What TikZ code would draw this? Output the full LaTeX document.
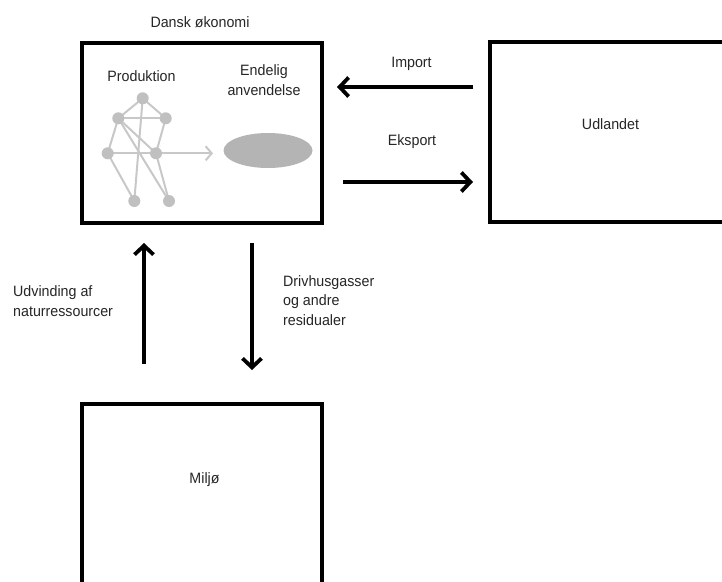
\documentclass[tikz,border=0pt]{standalone}
\usepackage{fontspec}
\setmainfont{Liberation Sans}[FakeStretch=0.95]
\usetikzlibrary{arrows.meta}
\definecolor{txt}{RGB}{38,38,38}
\definecolor{netline}{RGB}{200,200,200}
\definecolor{netnode}{RGB}{192,192,192}
\definecolor{ellfill}{RGB}{180,180,180}
\tikzset{
  box/.style={draw=black, line width=3.8pt, minimum width=240pt, minimum height=180pt, inner sep=0pt},
  lbl/.style={text=txt, font=\fontsize{15}{19.5}\selectfont, inner sep=0pt},
  bigarrow/.style={line width=3.8pt, -{Straight Barb[length=9pt,width=19pt]}},
  netedge/.style={netline, line width=2pt},
  netdot/.style={circle, fill=netnode, minimum size=12pt, inner sep=0pt},
}
\begin{document}
\begin{tikzpicture}[x=1pt, y=-1pt]
\clip (0,0) rectangle (722,581);
\fill[white] (0,0) rectangle (722,581);
% boxes
\node[box] (dk) at (202,133) {};
\node[box, minimum width=242pt] (udl) at (611,132) {};
\node[box, minimum height=200pt] (mil) at (202,504) {};
% titles
\node[lbl, anchor=base] (dktitle) at (200,27) {Dansk økonomi};
\node[lbl, anchor=base] (udltxt) at (610.5,129) {Udlandet};
\node[lbl, anchor=base] (miltxt) at (204.5,483) {Miljø};
\node[lbl, anchor=base] (prod) at (141.5,81) {Produktion};
\node[lbl, anchor=base, align=center] (endanv) at (264,95) {Endelig\\anvendelse};
% arrows
\coordinate (impS) at (473,87);
\coordinate (impE) at (337,87);
\coordinate (ekS) at (343,182);
\coordinate (ekE) at (473,182);
\coordinate (upS) at (144,364);
\coordinate (upE) at (144,243);
\coordinate (dnS) at (252,243);
\coordinate (dnE) at (252,370);
\draw[bigarrow] (impS) -- (impE);
\draw[bigarrow] (ekS) -- (ekE);
\draw[bigarrow] (upS) -- (upE);
\draw[bigarrow] (dnS) -- (dnE);
\node[lbl, anchor=base] (imp) at (411.5,67) {Import};
\node[lbl, anchor=base] (eks) at (412,145.5) {Eksport};
\node[lbl, anchor=base west, align=left] (udv) at (13,316) {Udvinding af\\naturressourcer};
\node[lbl, anchor=base west, align=left] (driv) at (283,325) {Drivhusgasser\\og andre\\residualer};
% production network
\coordinate (T) at (142.7,98.3);
\coordinate (UL) at (118.3,118.3);
\coordinate (UR) at (165.7,118.3);
\coordinate (ML) at (107.7,153.3);
\coordinate (MR) at (156,153.3);
\coordinate (BL) at (134.3,201);
\coordinate (BR) at (169,201);
\coordinate (netE) at (213,153.3);
\draw[netedge] (T) -- (UL);
\draw[netedge] (T) -- (UR);
\draw[netedge] (UL) -- (UR);
\draw[netedge] (UL) -- (ML);
\draw[netedge] (UR) -- (MR);
\draw[netedge] (ML) -- (BL);
\draw[netedge] (T) -- (BL);
\draw[netedge] (UL) -- (MR);
\draw[netedge] (UL) -- (BR);
\draw[netedge] (MR) -- (BR);
\draw[netedge] (ML) -- (MR);
\draw[netedge, -{Straight Barb[length=6pt,width=14pt]}] (MR) -- (netE);
\foreach \n in {T,UL,UR,ML,MR,BL,BR} \node[netdot] (d\n) at (\n) {};
% final use ellipse
\fill[ellfill] (268,150.5) ellipse [x radius=44.5pt, y radius=17.5pt];
\node[inner sep=0pt] (ell) at (268,150.5) {};
\end{tikzpicture}
\end{document}
